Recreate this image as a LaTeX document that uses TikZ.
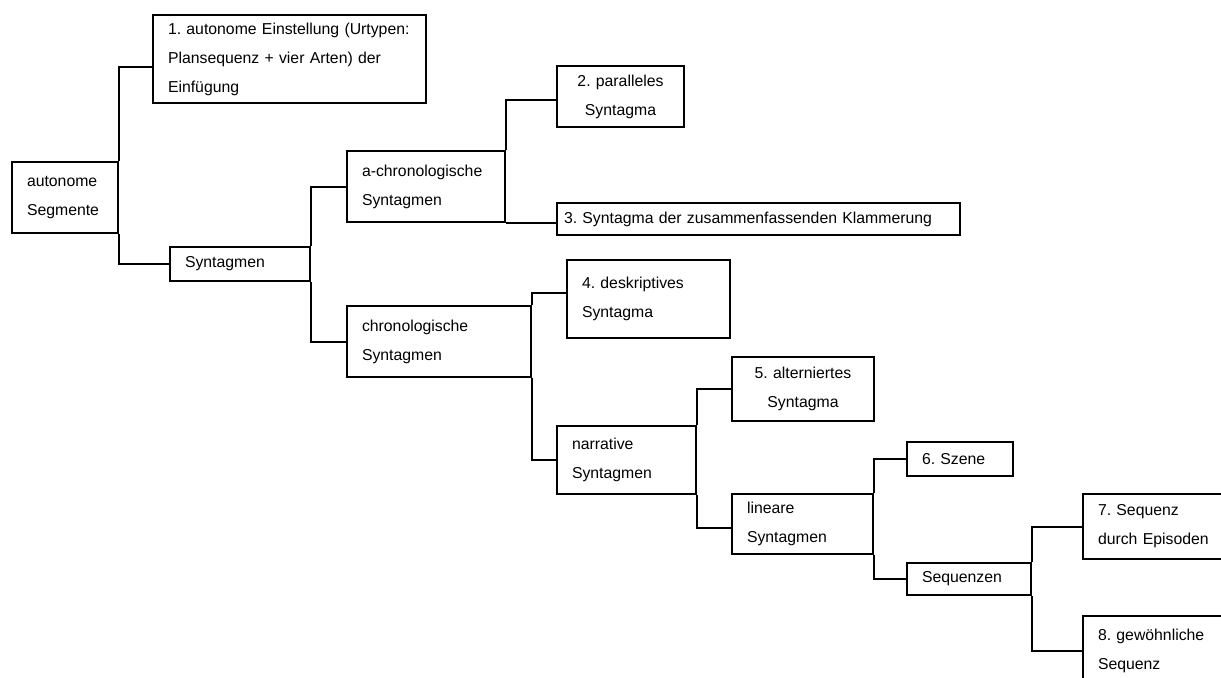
\documentclass[tikz,border=0pt]{standalone}
\usepackage{fontspec}
\setmainfont{Liberation Sans}
\usetikzlibrary{positioning,calc}
\frenchspacing
\hyphenpenalty=10000

\begin{document}
\begin{tikzpicture}[x=0.5pt,y=-0.5pt,
    seg/.style={draw,line width=1pt,anchor=north west,inner xsep=7.5pt,
        inner ysep=2pt,align=left,font=\fontsize{7.9}{14.5}\selectfont},
    segc/.style={seg,align=center},
    link/.style={line width=1pt}]
    \useasboundingbox (0,0) rectangle (1221,677);
    \clip (0,0) rectangle (1221,677);
    % Knoten
    \node[seg,text width=38pt,minimum height=35.5pt] (auto) at (11,161)
        {autonome\\Segmente};
    \node[seg,text width=121.5pt,minimum height=44pt] (einst) at (152,14)
        {1. autonome Einstellung (Urtypen:\\Plansequenz + vier Arten) der\\Einfügung};
    \node[seg,text width=55pt,minimum height=17pt] (synt) at (169,246)
        {Syntagmen};
    \node[seg,text width=64pt,minimum height=35.5pt] (achron) at (346,150)
        {a-chronologische\\Syntagmen};
    \node[segc,text width=48.5pt,minimum height=30.5pt] (parall) at (556,65)
        {2. paralleles\\Syntagma};
    \node[seg,inner xsep=3.5pt,text width=194.5pt,minimum height=16pt] (klamm) at (556,202)
        {3. Syntagma der zusammenfassenden Klammerung};
    \node[seg,text width=77pt,minimum height=35.5pt] (chron) at (346,305)
        {chronologische\\Syntagmen};
    \node[seg,text width=66.5pt,minimum height=39pt] (deskr) at (566,259)
        {4. deskriptives\\Syntagma\\[4pt]};
    \node[seg,text width=54.5pt,minimum height=34pt] (narr) at (556,425)
        {narrative\\Syntagmen};
    \node[segc,text width=56pt,minimum height=32pt] (altern) at (731,356)
        {5. alterniertes\\Syntagma};
    \node[seg,text width=55.5pt,minimum height=30pt] (linear) at (731,493)
        {lineare\\Syntagmen};
    \node[seg,text width=38pt,minimum height=17pt] (szene) at (906,441)
        {6. Szene};
    \node[seg,text width=47pt,minimum height=16pt] (sequ) at (906,562)
        {Sequenzen};
    \node[seg,text width=60pt,minimum height=32.5pt] (episod) at (1082,493)
        {7. Sequenz\\durch Episoden};
    \node[seg,text width=60pt,minimum height=35pt] (gewoehn) at (1082,615)
        {8. gewöhnliche\\Sequenz\\[2pt]};
    % Verbindungen
    \draw[link] (auto.north east) |- ([yshift=-4pt]einst.west);
    \draw[link] (auto.south east) |- (synt.west);
    \draw[link] (synt.north east) |- (achron.west);
    \draw[link] (synt.south east) |- (chron.west);
    \draw[link] (achron.north east) |- ([yshift=-1.75pt]parall.west);
    \draw[link] (achron.south east) -- (achron.south east -| klamm.west);
    \draw[link] (chron.north east) |- ([yshift=3pt]deskr.west);
    \draw[link] (chron.south east) |- (narr.west);
    \draw[link] (narr.north east) |- (altern.west);
    \draw[link] (narr.south east) |- ([yshift=-2pt]linear.west);
    \draw[link] (linear.north east) |- (szene.west);
    \draw[link] (linear.south east) |- (sequ.west);
    \draw[link] (sequ.north east) |- (episod.west);
    \draw[link] (sequ.south east) |- (gewoehn.west);
\end{tikzpicture}
\end{document}
